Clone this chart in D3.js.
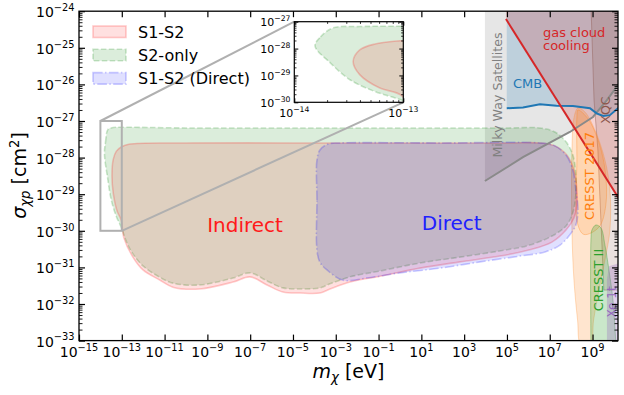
<!DOCTYPE html>
<meta charset="utf-8" />
<script src="https://d3js.org/d3.v7.min.js"></script>
<body style="margin: 0; background-color: #ffffff">
  <div id="chart"></div>
  <script>
    // contours as [log10(m / eV), log10(sigma / cm^2)]
    var s1s2 = [
      [-13.46, -28.48], [-13.4, -28.05], [-13.26, -27.83], [-13.03, -27.71], [-12.62, -27.63],
      [-10, -27.6], [-5, -27.6], [0, -27.6], [5, -27.6], [6.54, -27.6], [7.24, -27.68],
      [7.8, -27.93], [8.13, -28.34], [8.27, -28.88], [8.27, -29.3], [8.13, -29.65],
      [7.76, -29.98], [7.1, -30.31], [6.07, -30.52], [4.67, -30.69], [2.8, -30.85],
      [0.93, -31.02], [-0.93, -31.24], [-2.34, -31.4], [-3.27, -31.59], [-3.74, -31.7],
      [-4.67, -31.7], [-5.47, -31.67], [-6.21, -31.48], [-7.01, -31.26], [-7.8, -31.4],
      [-9.35, -31.59], [-10.61, -31.54], [-11.21, -31.35], [-12.01, -31.07], [-12.48, -30.72],
      [-12.9, -30.2], [-13.03, -29.71], [-13.22, -29.46], [-13.4, -28.97]
    ];
    var s2only = [
      [-13.81, -27.9], [-13.76, -27.57], [-13.645, -27.23], [-13.4, -27.18], [-13.03, -27.17],
      [-10, -27.19], [-5, -27.19], [0, -27.19], [5, -27.19], [6.54, -27.19], [7.24, -27.3],
      [7.76, -27.57], [8.08, -27.93], [8.22, -28.47], [8.22, -29.02], [8.08, -29.5],
      [7.8, -29.84], [7.24, -30.1], [6.07, -30.39], [4.67, -30.55], [2.8, -30.72],
      [0.93, -30.88], [-0.93, -31.1], [-2.34, -31.26], [-3.27, -31.45], [-3.74, -31.56],
      [-4.67, -31.59], [-5.47, -31.56], [-6.21, -31.37], [-7.01, -31.15], [-7.8, -31.29],
      [-9.35, -31.48], [-10.61, -31.43], [-11.31, -31.24], [-12.01, -30.96], [-12.48, -30.63],
      [-12.76, -30.33], [-13.03, -29.9], [-13.26, -29.6], [-13.49, -29.16], [-13.67, -28.53]
    ];
    var s1s2Direct = [
      [-3.88, -30.52], [-3.88, -29.16], [-3.88, -28.07], [-3.74, -27.79], [-3.36, -27.63],
      [-2.8, -27.6], [2, -27.6], [6.54, -27.6], [7.24, -27.68], [7.76, -27.93], [8.08, -28.34],
      [8.22, -28.88], [8.32, -29.43], [8.22, -29.84], [7.94, -30.11], [7.48, -30.39],
      [6.78, -30.58], [5.61, -30.69], [3.74, -30.85], [1.87, -31.02], [0, -31.15],
      [-1.54, -31.29], [-2.66, -31.35], [-3.41, -31.07], [-3.74, -30.86]
    ];

    // other bounds
    var milkyWay = [[3.97, -28.64], [5.75, -27.99], [7.94, -27.3], [9.02, -26.89], [9.67, -26.43], [10.19, -26.02], [10.4, -25.8]];
    var cmb = [[4.99, -26.65], [5.75, -26.63], [6.54, -26.54], [7.32, -26.58], [8.08, -26.59], [8.88, -26.65], [9.19, -26.79], [9.49, -26.86], [9.81, -26.84], [10.19, -26.65], [10.4, -26.55]];
    var gasCloud = [[4.953, -24.213], [10.5, -29.368]];
    var xqc = [[8.93, -23.9], [9.07, -26.43], [9.25, -27.79], [9.39, -29.71], [9.53, -31.62], [10.4, -31.62], [10.4, -23.9]];
    var cresst2017 = [
      [8.318, -26.645], [8.645, -26.754], [9.112, -27.246], [9.579, -28.066], [9.813, -28.885],
      [9.813, -29.978], [9.579, -30.798], [9.3, -31.617], [9.05, -32.437], [8.9, -33.1],
      [8.45, -33.1], [8.3, -32.437], [8.131, -31.344], [8.037, -29.978], [8.037, -27.792], [8.131, -26.918]
    ];
    var cresst2017Core = [[8.318, -26.7], [8.8, -26.95], [9.3, -27.6], [9.6, -28.4], [9.62, -29.3], [9.3, -29.9], [8.6, -30.1], [8.3, -29.8], [8.27, -28.0], [8.27, -26.9]];
    var cresst2 = [[8.925, -33.1], [8.925, -30.251], [8.972, -29.978], [9.159, -29.841], [9.393, -29.923], [9.579, -30.388], [9.766, -31.071], [9.953, -31.891], [10.093, -33.1]];
    var xe1t = [[9.673, -33.1], [9.673, -31.34], [9.766, -30.97], [10.4, -30.86], [10.4, -33.1]];

    var xTicks = [-15, -13, -11, -9, -7, -5, -3, -1, 1, 3, 5, 7, 9];
    var yTicks = [-33, -32, -31, -30, -29, -28, -27, -26, -25, -24];
    var insetXTicks = [-14, -13];
    var insetYTicks = [-30, -29, -28, -27];
    var legendNames = ["S1-S2", "S2-only", "S1-S2 (Direct)"];

    var svg = d3.select("#chart").append("svg")
      .attr("width", 624).attr("height", 395)
      .style("font-family", "'DejaVu Sans', sans-serif");

    var x = d3.scaleLog().domain([1e-15, Math.pow(10, 10.19)]).range([79, 618]);
    var y = d3.scaleLog().domain([1e-33, 1e-24]).range([340.6, 11.2]);
    var ix = d3.scaleLog().domain([1e-14, 1e-13]).range([294.3, 403.3]);
    var iy = d3.scaleLog().domain([1e-30, 1e-27]).range([102.3, 21.7]);

    var defs = svg.append("defs");
    defs.append("clipPath").attr("id", "clipMain").append("rect")
      .attr("x", 79).attr("y", 11.2).attr("width", 539).attr("height", 329.4);
    defs.append("clipPath").attr("id", "clipInset").append("rect")
      .attr("x", 294.3).attr("y", 21.7).attr("width", 109).attr("height", 80.6);

    function line(xs, ys, curve) {
      return d3.line()
        .x(function (d) { return xs(Math.pow(10, d[0])); })
        .y(function (d) { return ys(Math.pow(10, d[1])); })
        .curve(curve || d3.curveLinear);
    }
    var smooth = d3.curveCatmullRomClosed.alpha(0.5);

    var main = svg.append("g").attr("clip-path", "url(#clipMain)");

    // background constraints
    main.append("path")
      .attr("d", line(x, y, d3.curveLinearClosed)([[3.97, -23.9]].concat(milkyWay, [[10.4, -23.9]])))
      .attr("fill", "gray").attr("fill-opacity", 0.2);
    main.append("path")
      .attr("d", line(x, y, d3.curveLinearClosed)([[4.99, -23.9]].concat(cmb, [[10.4, -23.9]])))
      .attr("fill", "#1f77b4").attr("fill-opacity", 0.2);
    main.append("path")
      .attr("d", line(x, y, d3.curveLinearClosed)([[4.953, -23.9]].concat(gasCloud, [[10.5, -23.9]])))
      .attr("fill", "#d62728").attr("fill-opacity", 0.2);
    main.append("path")
      .attr("d", line(x, y, d3.curveLinearClosed)(xqc))
      .attr("fill", "#8c564b").attr("fill-opacity", 0.18)
      .attr("stroke", "#8c564b").attr("stroke-opacity", 0.4).attr("stroke-width", 1);
    main.append("path")
      .attr("d", line(x, y, smooth)(cresst2017))
      .attr("fill", "#ff7f0e").attr("fill-opacity", 0.2)
      .attr("stroke", "#ff7f0e").attr("stroke-opacity", 0.25).attr("stroke-width", 1);
    main.append("path")
      .attr("d", line(x, y, smooth)(cresst2017Core))
      .attr("fill", "#ff7f0e").attr("fill-opacity", 0.15)
      .attr("stroke", "#ff7f0e").attr("stroke-opacity", 0.3).attr("stroke-width", 1);
    main.append("path")
      .attr("d", line(x, y, d3.curveCatmullRom.alpha(0.5))(cresst2))
      .attr("fill", "#2ca02c").attr("fill-opacity", 0.25)
      .attr("stroke", "#2ca02c").attr("stroke-opacity", 0.35).attr("stroke-width", 1);
    main.append("path")
      .attr("d", line(x, y, d3.curveLinearClosed)(xe1t))
      .attr("fill", "#9467bd").attr("fill-opacity", 0.3);

    // legend order: S1-S2, S2-only, Direct; drawn order: S2-only, S1-S2, Direct
    var regionStyle = [
      { data: s1s2, color: "red", fo: 0.12, dash: null },
      { data: s2only, color: "green", fo: 0.14, dash: "5.5,2.4" },
      { data: s1s2Direct, color: "blue", fo: 0.12, dash: "9.6,2.4,1.5,2.4" }
    ];
    var drawOrder = [1, 0, 2];
    function drawRegions(g, xs, ys) {
      drawOrder.forEach(function (i) {
        var r = regionStyle[i];
        g.append("path")
          .attr("d", line(xs, ys, smooth)(r.data))
          .attr("fill", r.color).attr("fill-opacity", r.fo)
          .attr("stroke", r.color).attr("stroke-opacity", 0.2)
          .attr("stroke-width", 1.6)
          .attr("stroke-dasharray", r.dash);
      });
    }
    drawRegions(main, x, y);

    // constraint lines
    main.append("path").attr("d", line(x, y)(milkyWay))
      .attr("fill", "none").attr("stroke", "#8a8a8a").attr("stroke-width", 2);
    main.append("path").attr("d", line(x, y)(cmb))
      .attr("fill", "none").attr("stroke", "#1f77b4").attr("stroke-width", 2);
    main.append("path").attr("d", line(x, y)(gasCloud))
      .attr("fill", "none").attr("stroke", "#d62728").attr("stroke-width", 2);

    // labels in the plot
    function label(txt, px, py, size, color, rot) {
      return svg.append("text")
        .attr("transform", "translate(" + px + "," + py + ")" + (rot ? " rotate(-90)" : ""))
        .attr("text-anchor", rot ? "middle" : "start")
        .attr("font-size", size).attr("fill", color).text(txt);
    }
    label("Indirect", 245, 232, 20, "#ff1a1a").attr("text-anchor", "middle");
    label("Direct", 451.7, 230, 20, "#2020ff").attr("text-anchor", "middle");
    label("CMB", 513, 87.5, 13, "#1f77b4");
    label("gas cloud", 543, 36.5, 13, "#d62728");
    label("cooling", 543, 50, 13, "#d62728");
    label("Milky Way Satellites", 502, 95, 12.6, "#808080", true);
    label("XQC", 610, 110, 12.6, "#8c564b", true);
    label("CRESST 2017", 594, 176, 13, "#ff7f0e", true);
    label("CRESST II", 603, 280, 13, "#2ca02c", true);
    label("Xe 1t", 616, 302, 12, "#9467bd", true);

    // zoom box and connectors
    svg.append("rect")
      .attr("x", x(1e-14)).attr("y", y(1e-27))
      .attr("width", x(1e-13) - x(1e-14)).attr("height", y(1e-30) - y(1e-27))
      .attr("fill", "none").attr("stroke", "#b0b0b0").attr("stroke-width", 2);
    svg.append("line")
      .attr("x1", x(1e-14)).attr("y1", y(1e-27)).attr("x2", ix(1e-14)).attr("y2", iy(1e-27))
      .attr("stroke", "#b0b0b0").attr("stroke-width", 2);
    svg.append("line")
      .attr("x1", x(1e-13)).attr("y1", y(1e-30)).attr("x2", ix(1e-13)).attr("y2", iy(1e-30))
      .attr("stroke", "#b0b0b0").attr("stroke-width", 2);

    // tick helpers
    function powLabel(px, py, e, size, anchor) {
      var t = svg.append("text").attr("x", px).attr("y", py)
        .attr("font-size", size).attr("text-anchor", anchor).attr("fill", "#000");
      t.append("tspan").text("10");
      t.append("tspan").attr("font-size", size * 0.7).attr("dy", -size * 0.45)
        .text((e < 0 ? "\u2212" : "") + Math.abs(e));
    }
    function ticks(axisFn, scale, pos, values, len, w) {
      svg.append("g").attr("transform", pos)
        .call(axisFn(scale).tickValues(values).tickSizeInner(-len).tickSizeOuter(0).tickFormat(""))
        .call(function (g) {
          g.select(".domain").remove();
          g.selectAll("line").attr("stroke-width", w);
        });
    }
    function minors(exps) {
      var out = [];
      exps.slice(0, -1).forEach(function (e) {
        for (var k = 2; k < 10; k++) out.push(k * Math.pow(10, e));
      });
      return out;
    }

    // main axes
    var xv = xTicks.map(function (e) { return Math.pow(10, e); });
    var yv = yTicks.map(function (e) { return Math.pow(10, e); });
    ticks(d3.axisBottom, x, "translate(0,340.6)", xv, 6, 1.2);
    ticks(d3.axisTop, x, "translate(0,11.2)", xv, 6, 1.2);
    ticks(d3.axisLeft, y, "translate(79,0)", yv, 6, 1.2);
    ticks(d3.axisRight, y, "translate(618,0)", yv, 6, 1.2);
    ticks(d3.axisLeft, y, "translate(79,0)", minors(yTicks), 3.5, 0.9);
    ticks(d3.axisRight, y, "translate(618,0)", minors(yTicks), 3.5, 0.9);
    svg.append("rect").attr("x", 79).attr("y", 11.2).attr("width", 539).attr("height", 329.4)
      .attr("fill", "none").attr("stroke", "#000").attr("stroke-width", 1.3);

    xTicks.forEach(function (e) { powLabel(x(Math.pow(10, e)), 357, e, 14, "middle"); });
    yTicks.forEach(function (e) { powLabel(74.5, y(Math.pow(10, e)) + 6, e, 14, "end"); });

    // axis titles
    var xl = svg.append("text").attr("x", 348.5).attr("y", 378)
      .attr("text-anchor", "middle").attr("font-size", 19);
    xl.append("tspan").attr("font-style", "italic").text("m");
    xl.append("tspan").attr("font-style", "italic").attr("font-size", 13.3).attr("dy", 4).text("\u03c7");
    xl.append("tspan").attr("dy", -4).text(" [eV]");

    var yl = svg.append("text").attr("transform", "translate(26,175.5) rotate(-90)")
      .attr("text-anchor", "middle").attr("font-size", 19);
    yl.append("tspan").attr("font-style", "italic").text("\u03c3");
    yl.append("tspan").attr("font-style", "italic").attr("font-size", 13.3).attr("dy", 4).text("\u03c7p");
    yl.append("tspan").attr("dy", -4).text(" [cm");
    yl.append("tspan").attr("font-size", 13.3).attr("dy", -7).text("2");
    yl.append("tspan").attr("dy", 7).text("]");

    // legend
    var leg = svg.append("g");
    regionStyle.forEach(function (r, i) {
      var ly = 26 + i * 23.3;
      leg.append("rect").attr("x", 93).attr("y", ly).attr("width", 33).attr("height", 11.5)
        .attr("fill", r.color).attr("fill-opacity", r.fo)
        .attr("stroke", r.color).attr("stroke-opacity", 0.2).attr("stroke-width", 1.6)
        .attr("stroke-dasharray", r.dash);
      leg.append("text").attr("x", 138).attr("y", ly + 11.8).attr("font-size", 16)
        .text(legendNames[i]);
    });

    // inset
    svg.append("rect").attr("x", 294.3).attr("y", 21.7).attr("width", 109).attr("height", 80.6)
      .attr("fill", "#fff");
    var inset = svg.append("g").attr("clip-path", "url(#clipInset)");
    drawRegions(inset, ix, iy);
    var ixv = insetXTicks.map(function (e) { return Math.pow(10, e); });
    var iyv = insetYTicks.map(function (e) { return Math.pow(10, e); });
    ticks(d3.axisBottom, ix, "translate(0,102.3)", ixv, 4, 1);
    ticks(d3.axisTop, ix, "translate(0,21.7)", ixv, 4, 1);
    ticks(d3.axisBottom, ix, "translate(0,102.3)", minors(insetXTicks), 2.2, 0.8);
    ticks(d3.axisTop, ix, "translate(0,21.7)", minors(insetXTicks), 2.2, 0.8);
    ticks(d3.axisLeft, iy, "translate(294.3,0)", iyv, 4, 1);
    ticks(d3.axisRight, iy, "translate(403.3,0)", iyv, 4, 1);
    ticks(d3.axisLeft, iy, "translate(294.3,0)", minors(insetYTicks), 2.2, 0.8);
    ticks(d3.axisRight, iy, "translate(403.3,0)", minors(insetYTicks), 2.2, 0.8);
    svg.append("rect").attr("x", 294.3).attr("y", 21.7).attr("width", 109).attr("height", 80.6)
      .attr("fill", "none").attr("stroke", "#000").attr("stroke-width", 1.2);
    insetXTicks.forEach(function (e) { powLabel(ix(Math.pow(10, e)), 116.5, e, 11, "middle"); });
    insetYTicks.forEach(function (e) { powLabel(290.5, iy(Math.pow(10, e)) + 4.5, e, 11, "end"); });
  </script>
</body>
